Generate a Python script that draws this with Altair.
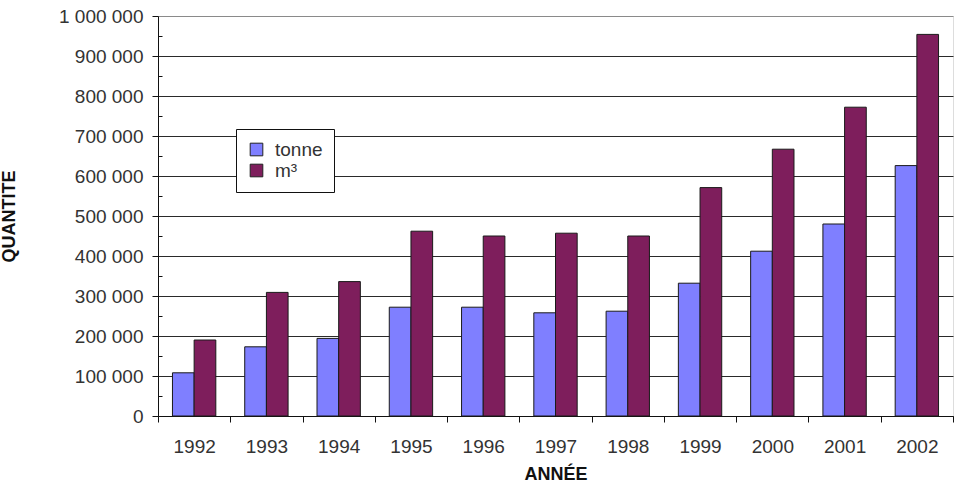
import altair as alt
import pandas as pd

years = ["1992", "1993", "1994", "1995", "1996", "1997", "1998", "1999", "2000", "2001", "2002"]
tonne = [108000, 173000, 194000, 272000, 272000, 258000, 262000, 332000, 412000, 480000, 626000]
m3 = [190000, 309000, 336000, 462000, 450000, 457000, 450000, 571000, 667000, 772000, 954000]
series = ["tonne", "m³"]
colors = ["#7F7FFF", "#7E1E5C"]
y_major = list(range(0, 1000001, 100000))
y_minor = list(range(50000, 1000000, 100000))

rows = []
for i, yr in enumerate(years):
    rows.append({"annee": yr, "serie": series[0], "valeur": tonne[i]})
    rows.append({"annee": yr, "serie": series[1], "valeur": m3[i]})
df = pd.DataFrame(rows)

FONT = "Liberation Sans"

y_scale = alt.Scale(domain=[0, 1000000], nice=False)

bars = alt.Chart(df).mark_bar(stroke="#1a1a1a", strokeWidth=1).encode(
    x=alt.X(
        "annee:N",
        sort=years,
        scale=alt.Scale(paddingInner=0, paddingOuter=0),
        axis=alt.Axis(
            title="ANNÉE",
            titleFont=FONT,
            titleFontSize=18,
            titleFontWeight="bold",
            titleColor="#111",
            titleBaseline="alphabetic",
            titleY=63,
            labelFont=FONT,
            labelFontSize=19,
            labelColor="#333",
            labelAngle=0,
            labelBaseline="alphabetic",
            labelPadding=30,
            tickBand="extent",
            tickSize=6,
            tickColor="#111",
            domainColor="#111",
            grid=False,
        ),
    ),
    xOffset=alt.XOffset(
        "serie:N",
        sort=series,
        scale=alt.Scale(paddingInner=0, paddingOuter=0.667),
    ),
    y=alt.Y(
        "valeur:Q",
        scale=y_scale,
        axis=alt.Axis(
            orient="left",
            title="QUANTITE",
            titleFont=FONT,
            titleFontSize=18,
            titleFontWeight="bold",
            titleColor="#111",
            titleAngle=270,
            titleAlign="center",
            titleBaseline="alphabetic",
            titleX=-144,
            titleY=200,
            values=y_major,
            labelExpr="replace(replace(format(datum.value, ','), ',', ' '), ',', ' ')",
            labelFont=FONT,
            labelFontSize=19,
            labelColor="#333",
            labelPadding=9,
            tickSize=6,
            tickColor="#111",
            domainColor="#111",
            grid=True,
            gridColor={"condition": {"test": "datum.value === 1000000", "value": "#8a8a8a"}, "value": "#2a2a2a"},
            gridWidth=1,
        ),
    ),
    color=alt.Color(
        "serie:N",
        sort=series,
        scale=alt.Scale(domain=series, range=colors),
        legend=alt.Legend(
            title=None,
            orient="none",
            legendX=78,
            legendY=113,
            fillColor="white",
            strokeColor="#111",
            padding=11,
            symbolType="square",
            symbolSize=160,
            symbolStrokeColor="#222",
            symbolStrokeWidth=1,
            labelFont=FONT,
            labelFontSize=19,
            labelColor="#333",
            labelOffset=9,
            rowPadding=1,
        ),
    ),
)

minor = alt.Chart(pd.DataFrame({"valeur": y_minor})).mark_point(opacity=0).encode(
    y=alt.Y(
        "valeur:Q",
        scale=y_scale,
        axis=alt.Axis(
            orient="left",
            offset=-4,
            values=y_minor,
            labels=False,
            domain=False,
            grid=False,
            title=None,
            tickSize=4,
            tickColor="#111",
        ),
    )
)

chart = (
    alt.layer(bars, minor)
    .resolve_axis(y="independent")
    .properties(
        width=795,
        height=400,
        autosize=alt.AutoSizeParams(type="none"),
        padding={"left": 158, "top": 16, "right": 11, "bottom": 69},
    )
    .configure_view(stroke=None)
    .configure(background="white")
)

chart.save("out.html", embed_options={"renderer": "svg", "actions": False})
